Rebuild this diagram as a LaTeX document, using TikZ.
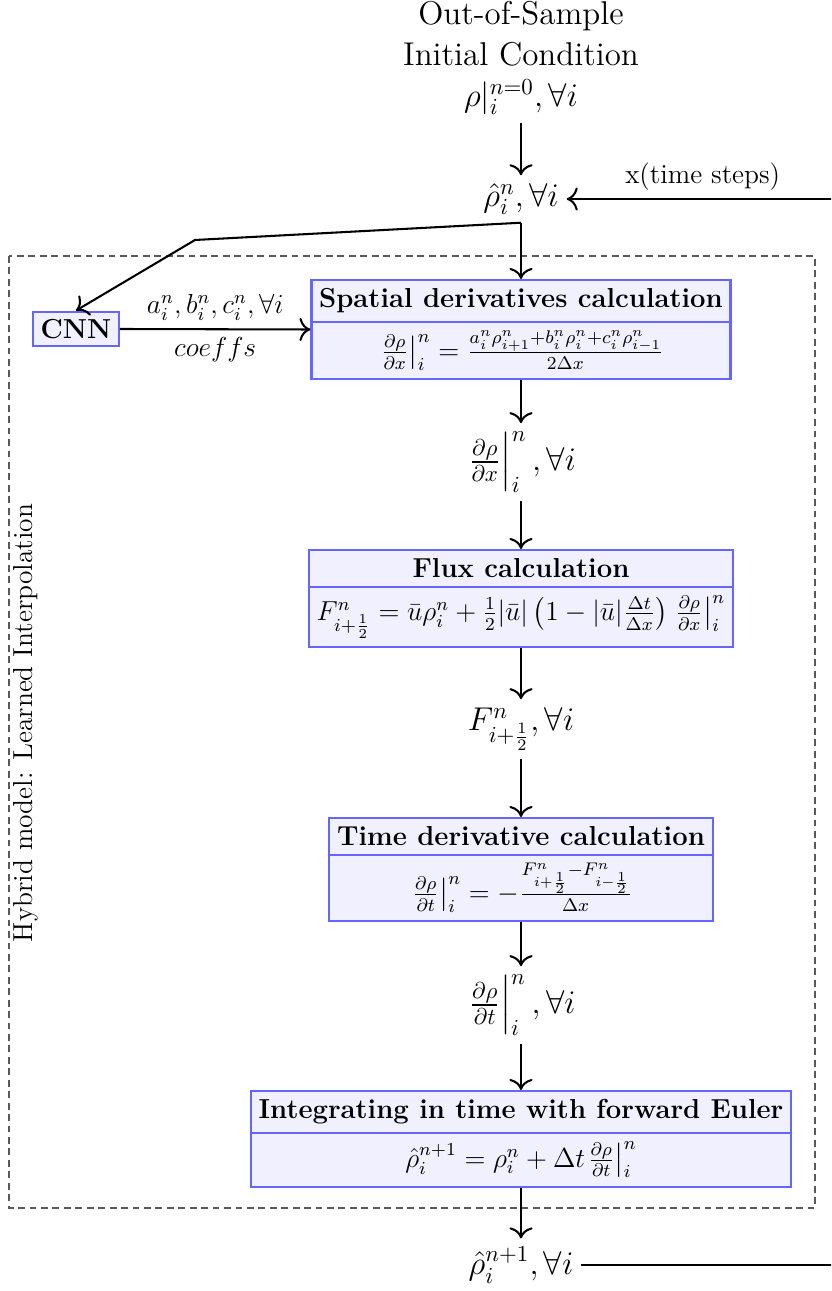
\documentclass[tikz,border=0pt]{standalone}
\usepackage{amsmath}
\usetikzlibrary{shapes.multipart,arrows.meta}
\begin{document}
\begin{tikzpicture}[x=0.437pt,y=-0.437pt,
  proc/.style={rectangle split, rectangle split parts=2, draw=blue!60, fill=blue!6, line width=0.9pt, font=\large, align=center, anchor=north},
  lbl/.style={font=\Large},
  conn/.style={-{To[scale=1.35]}, line width=0.9pt},
  hybridbox/.style={draw=black!65, line width=0.5pt, dash pattern=on 3pt off 2pt}]
\clip (0,0) rectangle (831,1291);
% hybrid frame
\draw[hybridbox] (9,256) rectangle (815,1208);
\node[rotate=90, font=\large] (hyb) at (26,723) {Hybrid model: Learned Interpolation};
% nodes
\node[align=center, font=\Large] (init) at (521,58) {Out-of-Sample\\Initial Condition\\$\rho|_i^{n=0},\forall i$};
\node[lbl] (rh) at (521,199) {$\hat\rho_i^n,\forall i$};
\node[draw=blue!60, fill=blue!6, line width=0.9pt, font=\large\bfseries] (cnn) at (76,329) {CNN};
\node[proc] (sp) at (521,279) {\textbf{Spatial derivatives calculation}\nodepart{two}$\left.\frac{\partial\rho}{\partial x}\right|_i^n = \frac{a_i^n\rho_{i+1}^n+b_i^n\rho_i^n+c_i^n\rho_{i-1}^n}{2\Delta x}$};
\node[lbl] (dx) at (521,462) {$\left.\frac{\partial\rho}{\partial x}\right|_i^n,\forall i$};
\node[proc] (fl) at (521,549) {\textbf{Flux calculation}\nodepart{two}$F^n_{i+\frac12} = \bar u\rho_i^n + \frac12|\bar u|\left(1-|\bar u|\frac{\Delta t}{\Delta x}\right)\left.\frac{\partial\rho}{\partial x}\right|_i^n$};
\node[lbl] (ff) at (521,729) {$F^n_{i+\frac12},\forall i$};
\node[proc] (td) at (521,817) {\textbf{Time derivative calculation}\nodepart{two}$\left.\frac{\partial\rho}{\partial t}\right|_i^n = -\frac{F^n_{i+\frac12}-F^n_{i-\frac12}}{\Delta x}$};
\node[lbl] (dt) at (521,1005) {$\left.\frac{\partial\rho}{\partial t}\right|_i^n,\forall i$};
\node[proc] (eu) at (521,1090) {\textbf{Integrating in time with forward Euler}\nodepart{two}$\hat\rho_i^{n+1} = \rho_i^n + \Delta t\!\left.\frac{\partial\rho}{\partial t}\right|_i^n$};
\node[lbl] (rn) at (521,1265) {$\hat\rho_i^{n+1},\forall i$};
\coordinate (bend) at (195,240);
\coordinate (loop) at (850,0);
% connectors
\draw[conn] (init) -- (rh);
\draw[conn] (rh.south) -- (sp.north);
\draw[conn] (rh.south) -- (bend) -- (cnn.north);
\draw[conn] (cnn.east) -- node[above, font=\large] {$a_i^n,b_i^n,c_i^n,\forall i$} node[below, font=\large] {$coeffs$} (sp.west);
\draw[conn] (sp.south) -- (dx);
\draw[conn] (dx) -- (fl.north);
\draw[conn] (fl.south) -- (ff);
\draw[conn] (ff) -- (td.north);
\draw[conn] (td.south) -- (dt);
\draw[conn] (dt) -- (eu.north);
\draw[conn] (eu.south) -- (rn);
\draw[conn] (rn.east) -- (rn.east -| loop) -- (rh.east -| loop) -- node[pos=0.52, above, font=\large] {x(time steps)} (rh.east);
\end{tikzpicture}
\end{document}
